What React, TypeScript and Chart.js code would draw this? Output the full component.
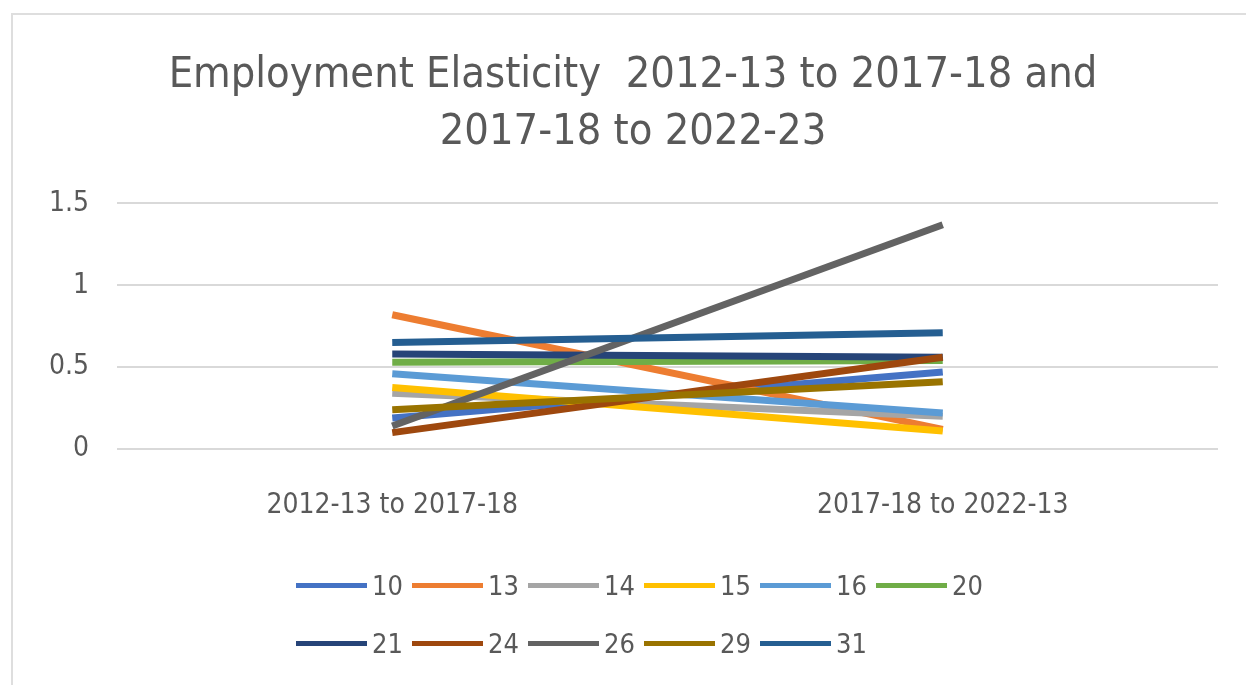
import React, { useEffect, useRef } from "react";
import { Chart, registerables } from "chart.js";

Chart.register(...registerables);

const titleLines = ["Employment Elasticity  2012-13 to 2017-18 and", "2017-18 to 2022-23"];
const categories = ["2012-13 to 2017-18", "2017-18 to 2022-13"];
const seriesNames = ["10", "13", "14", "15", "16", "20", "21", "24", "26", "29", "31"];
const seriesColors = ["#4472C4", "#ED7D31", "#A5A5A5", "#FFC000", "#5B9BD5", "#70AD47", "#264478", "#9E480E", "#636363", "#997300", "#255E91"];
const s10 = [0.19, 0.47];
const s13 = [0.82, 0.12];
const s14 = [0.34, 0.2];
const s15 = [0.375, 0.11];
const s16 = [0.46, 0.22];
const s20 = [0.53, 0.54];
const s21 = [0.58, 0.56];
const s24 = [0.1, 0.56];
const s26 = [0.14, 1.37];
const s29 = [0.24, 0.41];
const s31 = [0.65, 0.71];
const seriesValues = [s10, s13, s14, s15, s16, s20, s21, s24, s26, s29, s31];
const yTicks = [0, 0.5, 1, 1.5];
const yTickLabels = ["0", "0.5", "1", "1.5"];

const FONT = '"DejaVu Sans Condensed", "Liberation Sans", sans-serif';
const TEXT = "#595959";

export default function App() {
  const ref = useRef<HTMLCanvasElement | null>(null);

  useEffect(() => {
    if (!ref.current) return;
    const n = seriesNames.length;
    const chart = new Chart(ref.current, {
      type: "line",
      data: {
        labels: categories,
        datasets: seriesNames.map((name, i) => ({
          label: name,
          data: seriesValues[i],
          borderColor: seriesColors[i],
          backgroundColor: seriesColors[i],
          borderWidth: 7,
          pointRadius: 0,
          tension: 0,
          order: n - i,
        })),
      },
      options: {
        animation: false,
        responsive: false,
        maintainAspectRatio: false,
        layout: { padding: { left: 48, right: 28, top: 0, bottom: 146 } },
        plugins: {
          legend: { display: false },
          tooltip: { enabled: false },
          title: {
            display: true,
            text: titleLines,
            color: TEXT,
            font: { family: FONT, size: 43, weight: "normal", lineHeight: 1.33 },
            padding: { top: 47, bottom: 42 },
          },
        },
        scales: {
          x: {
            offset: true,
            grid: { display: false },
            border: { display: false },
            ticks: { color: TEXT, font: { family: FONT, size: 28 }, padding: 32, maxRotation: 0 },
            afterFit: (s: any) => {
              s.height = 90;
            },
          },
          y: {
            min: 0,
            max: 1.5,
            afterBuildTicks: (s: any) => {
              s.ticks = yTicks.map((v) => ({ value: v }));
            },
            grid: { color: "#d9d9d9", lineWidth: 2, drawTicks: false },
            border: { display: false },
            ticks: {
              color: TEXT,
              font: { family: FONT, size: 28 },
              padding: 28,
              callback: (v: any) => {
                const k = yTicks.indexOf(Number(v));
                return k >= 0 ? yTickLabels[k] : "";
              },
            },
            afterFit: (s: any) => {
              s.width = 69;
            },
          },
        },
      },
    });
    return () => chart.destroy();
  }, []);

  return (
    <div style={{ position: "fixed", left: 0, top: 0, width: 1246, height: 685, background: "#fff", overflow: "hidden" }}>
      <div
        style={{
          position: "absolute",
          left: 11,
          top: 13,
          width: 1260,
          height: 700,
          border: "2px solid #dedede",
        }}
      />
      <canvas ref={ref} width={1246} height={685} style={{ position: "absolute", left: 0, top: 0 }} />
      <div
        style={{
          position: "absolute",
          left: 296,
          top: 556,
          width: 700,
          display: "flex",
          flexWrap: "wrap",
          fontFamily: FONT,
          fontSize: 27,
          color: TEXT,
        }}
      >
        {seriesNames.map((name, i) => (
          <div key={name} style={{ flex: "0 0 116px", height: 58, display: "flex", alignItems: "center", whiteSpace: "nowrap" }}>
            <span style={{ display: "inline-block", width: 71, height: 5, background: seriesColors[i], marginRight: 5 }} />
            <span>{name}</span>
          </div>
        ))}
      </div>
    </div>
  );
}
